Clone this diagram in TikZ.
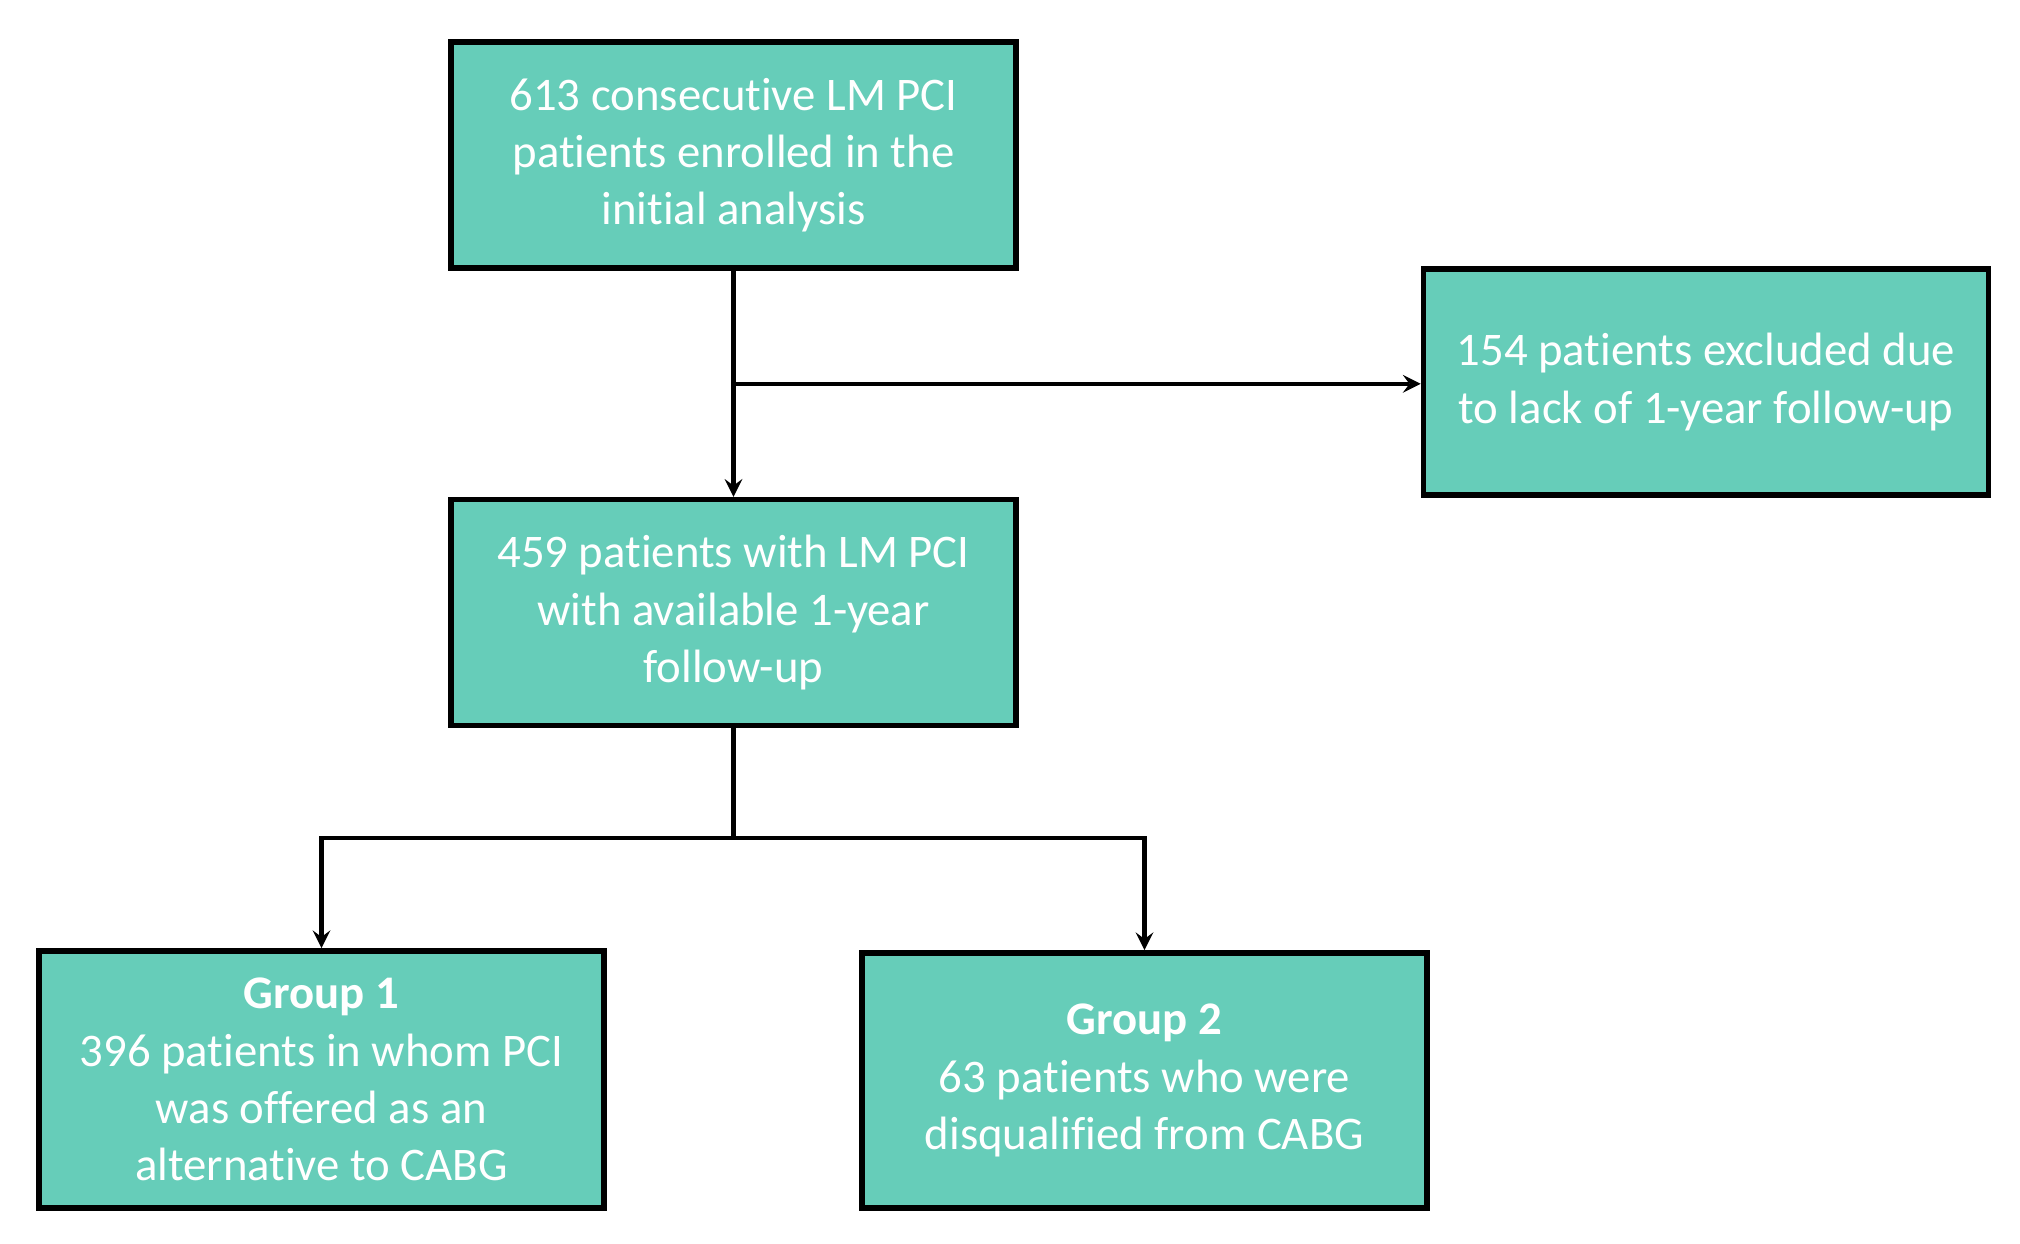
\documentclass[tikz,border=0pt]{standalone}
\usepackage{fontspec}
\setmainfont{Carlito}[Ligatures={NoCommon}]
\usepackage{xcolor}
\usetikzlibrary{arrows}
\usetikzlibrary{positioning}
\usetikzlibrary{calc}

\definecolor{boxteal}{HTML}{66CDB9}

\begin{document}
\begin{tikzpicture}[
                > = stealth, % arrow head style
                line width = 1.2pt, % line style
                node distance = 2.26cm % distance between boxes
        ]

        \tikzstyle{box}=[
            draw = black,
            line width = 1.6pt,
            fill = boxteal,
            text = white,
            align = center,
            font = \fontsize{13.3}{16.3}\selectfont,
            minimum width = 5.65cm,
            minimum height = 2.26cm,
            inner sep = 2pt
        ]

        \useasboundingbox (0,0) rectangle (20.2,-12.43);

        \node[box] (Init) at (7.335,-1.55) {613 consecutive LM PCI\\patients enrolled in the\\initial analysis};
        \node[box] (Avail) [below=of Init] {459 patients with LM PCI\\with available 1-year\\follow-up};
        \node[box] (Excl) at (17.06,-3.82) {154 patients excluded due\\to lack of 1-year follow-up};
        \node[box, minimum height = 2.57cm] (Grp1) at (3.215,-10.795) {\textbf{Group 1}\\396 patients in whom PCI\\was offered as an\\alternative to CABG};
        \node[box, minimum height = 2.55cm] (Grp2) at (11.445,-10.805) {\textbf{Group 2}\\63 patients who were\\disqualified from CABG};

        \coordinate (S1) at ($(Init.south)!0.5!(Avail.north)$);
        \coordinate (S2) at ($(Avail.south)!0.5!(Grp1.north -| Avail.south)$);

        \draw[->] (Init) -- (Avail);
        \draw[->] (S1) -- (S1 -| Excl.west);
        \draw (Avail) -- (S2);
        \draw[->] (S2) -| (Grp1);
        \draw[->] (S2) -| (Grp2);

        \end{tikzpicture}
\end{document}
